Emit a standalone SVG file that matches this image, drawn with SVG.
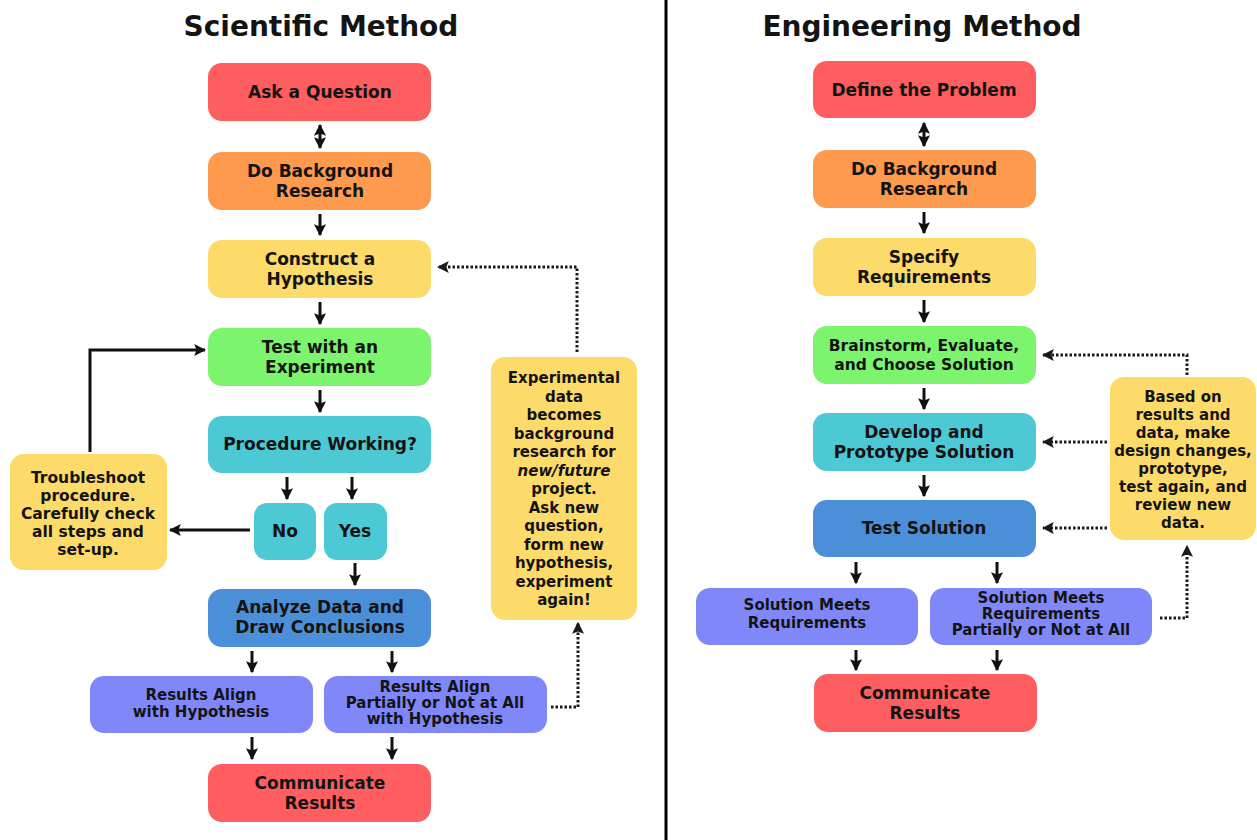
<svg xmlns="http://www.w3.org/2000/svg" width="1257" height="840" viewBox="0 0 1257 840">
<defs>
<marker id="ah" viewBox="0 0 10 10" refX="9" refY="5" markerWidth="12" markerHeight="12" markerUnits="userSpaceOnUse" orient="auto-start-reverse"><path d="M0,0 L10,5 L0,10 L2,5 Z" fill="#111"/></marker>
<marker id="ahd" viewBox="0 0 10 10" refX="9" refY="5" markerWidth="12" markerHeight="12" markerUnits="userSpaceOnUse" orient="auto"><path d="M0,0 L10,5 L0,10 L2,5 Z" fill="#1a1a1a"/></marker>
</defs>
<style>
text{font-family:"DejaVu Sans","Verdana",sans-serif;font-weight:bold;fill:#141414;text-anchor:middle}
.t{font-size:28px}
.m{font-size:17px}
.s{font-size:15.5px}
.xs{font-size:15px}
.red{fill:#FE5E60}.org{fill:#FE9A4E}.yel{fill:#FDDB6B}.grn{fill:#7DF46E}.teal{fill:#4DC8D5}.blu{fill:#4C8FD9}.pur{fill:#8087F9}
.c{stroke:#111;stroke-width:3;fill:none;marker-end:url(#ah)}
.cd{stroke:#111;stroke-width:3;fill:none;marker-start:url(#ah);marker-end:url(#ah)}
.d{stroke:#1a1a1a;stroke-width:3;stroke-dasharray:2.5 2;fill:none;marker-end:url(#ahd)}
</style>
<rect x="0" y="0" width="1257" height="840" fill="#fff"/>
<line x1="666" y1="0" x2="666" y2="840" stroke="#000" stroke-width="3"/>
<text class="t" x="321" y="36">Scientific Method</text>
<text class="t" x="922" y="36">Engineering Method</text>

<g id="connectors">
<line class="cd" x1="320" y1="125" x2="320" y2="148"/>
<line class="c" x1="320" y1="214" x2="320" y2="235"/>
<line class="c" x1="320" y1="302" x2="320" y2="324"/>
<line class="c" x1="320" y1="390" x2="320" y2="412"/>
<line class="c" x1="287" y1="477" x2="287" y2="499"/>
<line class="c" x1="352" y1="477" x2="352" y2="499"/>
<line class="c" x1="250" y1="530" x2="170" y2="530"/>
<path class="c" d="M90,452 V350 H205"/>
<line class="c" x1="355" y1="563" x2="355" y2="585"/>
<line class="c" x1="252" y1="651" x2="252" y2="672"/>
<line class="c" x1="392" y1="651" x2="392" y2="672"/>
<line class="c" x1="252" y1="737" x2="252" y2="759"/>
<line class="c" x1="392" y1="737" x2="392" y2="759"/>
<path class="d" d="M551,707 H578 V623"/>
<path class="d" d="M577,352 V267 H438"/>

<line class="cd" x1="924" y1="123" x2="924" y2="146"/>
<line class="c" x1="924" y1="212" x2="924" y2="233"/>
<line class="c" x1="924" y1="300" x2="924" y2="322"/>
<line class="c" x1="924" y1="388" x2="924" y2="409"/>
<line class="c" x1="924" y1="475" x2="924" y2="496"/>
<line class="c" x1="856" y1="562" x2="856" y2="583"/>
<line class="c" x1="997" y1="562" x2="997" y2="583"/>
<line class="c" x1="856" y1="650" x2="856" y2="670"/>
<line class="c" x1="997" y1="650" x2="997" y2="670"/>
<path class="d" d="M1187,375 V355 H1043"/>
<path class="d" d="M1107,442 H1043"/>
<path class="d" d="M1107,528 H1043"/>
<path class="d" d="M1160,618 H1187 V546"/>
</g>

<g id="s-ask"><rect class="red" x="208" y="63" width="223" height="58" rx="14"/><text class="m" x="320" y="98">Ask a Question</text></g>
<g id="s-bg"><rect class="org" x="208" y="152" width="223" height="58" rx="14"/><text class="m" x="320" y="177">Do Background</text><text class="m" x="320" y="197">Research</text></g>
<g id="s-hyp"><rect class="yel" x="208" y="240" width="223" height="58" rx="14"/><text class="m" x="320" y="265">Construct a</text><text class="m" x="320" y="285">Hypothesis</text></g>
<g id="s-test"><rect class="grn" x="208" y="328" width="223" height="58" rx="14"/><text class="m" x="320" y="353">Test with an</text><text class="m" x="320" y="373">Experiment</text></g>
<g id="s-proc"><rect class="teal" x="208" y="416" width="223" height="57" rx="14"/><text class="m" x="320" y="450">Procedure Working?</text></g>
<g id="s-no"><rect class="teal" x="254" y="503" width="62" height="57" rx="13"/><text class="m" x="285" y="537">No</text></g>
<g id="s-yes"><rect class="teal" x="324" y="503" width="63" height="57" rx="13"/><text class="m" x="355" y="537">Yes</text></g>
<g id="s-trouble"><rect class="yel" x="10" y="454" width="157" height="116" rx="14"/>
<text class="s" x="88" y="483">Troubleshoot</text><text class="s" x="88" y="501">procedure.</text><text class="s" x="88" y="519">Carefully check</text><text class="s" x="88" y="537">all steps and</text><text class="s" x="88" y="555">set-up.</text></g>
<g id="s-analyze"><rect class="blu" x="208" y="589" width="223" height="58" rx="14"/><text class="m" x="320" y="613">Analyze Data and</text><text class="m" x="320" y="633">Draw Conclusions</text></g>
<g id="s-align"><rect class="pur" x="90" y="676" width="223" height="57" rx="14"/><text class="xs" x="201" y="700">Results Align</text><text class="xs" x="201" y="717">with Hypothesis</text></g>
<g id="s-partial"><rect class="pur" x="324" y="676" width="223" height="57" rx="14"/><text class="xs" x="435" y="692">Results Align</text><text class="xs" x="435" y="708">Partially or Not at All</text><text class="xs" x="435" y="724">with Hypothesis</text></g>
<g id="s-comm"><rect class="red" x="208" y="764" width="223" height="58" rx="14"/><text class="m" x="320" y="789">Communicate</text><text class="m" x="320" y="809">Results</text></g>
<g id="s-exp"><rect class="yel" x="491" y="357" width="146" height="263" rx="14"/>
<text class="xs" x="564" y="383">Experimental</text><text class="xs" x="564" y="401.5">data</text><text class="xs" x="564" y="420">becomes</text><text class="xs" x="564" y="438.5">background</text><text class="xs" x="564" y="457">research for</text><text class="xs" x="564" y="475.5" font-style="italic">new/future</text><text class="xs" x="564" y="494">project.</text><text class="xs" x="564" y="512.5">Ask new</text><text class="xs" x="564" y="531">question,</text><text class="xs" x="564" y="549.5">form new</text><text class="xs" x="564" y="568">hypothesis,</text><text class="xs" x="564" y="586.5">experiment</text><text class="xs" x="564" y="605">again!</text></g>

<g id="e-define"><rect class="red" x="813" y="61" width="223" height="57" rx="14"/><text class="m" x="924" y="96">Define the Problem</text></g>
<g id="e-bg"><rect class="org" x="813" y="150" width="223" height="58" rx="14"/><text class="m" x="924" y="175">Do Background</text><text class="m" x="924" y="195">Research</text></g>
<g id="e-req"><rect class="yel" x="813" y="238" width="223" height="58" rx="14"/><text class="m" x="924" y="263">Specify</text><text class="m" x="924" y="283">Requirements</text></g>
<g id="e-brain"><rect class="grn" x="813" y="326" width="223" height="58" rx="14"/><text class="s" x="924" y="351">Brainstorm, Evaluate,</text><text class="s" x="924" y="370">and Choose Solution</text></g>
<g id="e-dev"><rect class="teal" x="813" y="413" width="223" height="58" rx="14"/><text class="m" x="924" y="438">Develop and</text><text class="m" x="924" y="458">Prototype Solution</text></g>
<g id="e-test"><rect class="blu" x="813" y="500" width="223" height="57" rx="14"/><text class="m" x="924" y="534">Test Solution</text></g>
<g id="e-meets"><rect class="pur" x="696" y="588" width="222" height="57" rx="14"/><text class="xs" x="807" y="610">Solution Meets</text><text class="xs" x="807" y="628">Requirements</text></g>
<g id="e-partial"><rect class="pur" x="930" y="588" width="222" height="57" rx="14"/><text class="xs" x="1041" y="603">Solution Meets</text><text class="xs" x="1041" y="619">Requirements</text><text class="xs" x="1041" y="635">Partially or Not at All</text></g>
<g id="e-comm"><rect class="red" x="814" y="674" width="223" height="58" rx="14"/><text class="m" x="925" y="699">Communicate</text><text class="m" x="925" y="719">Results</text></g>
<g id="e-based"><rect class="yel" x="1110" y="377" width="146" height="163" rx="14"/>
<text class="xs" x="1183" y="402">Based on</text><text class="xs" x="1183" y="420">results and</text><text class="xs" x="1183" y="438">data, make</text><text class="xs" x="1183" y="456">design changes,</text><text class="xs" x="1183" y="474">prototype,</text><text class="xs" x="1183" y="492">test again, and</text><text class="xs" x="1183" y="510">review new</text><text class="xs" x="1183" y="528">data.</text></g>
</svg>
